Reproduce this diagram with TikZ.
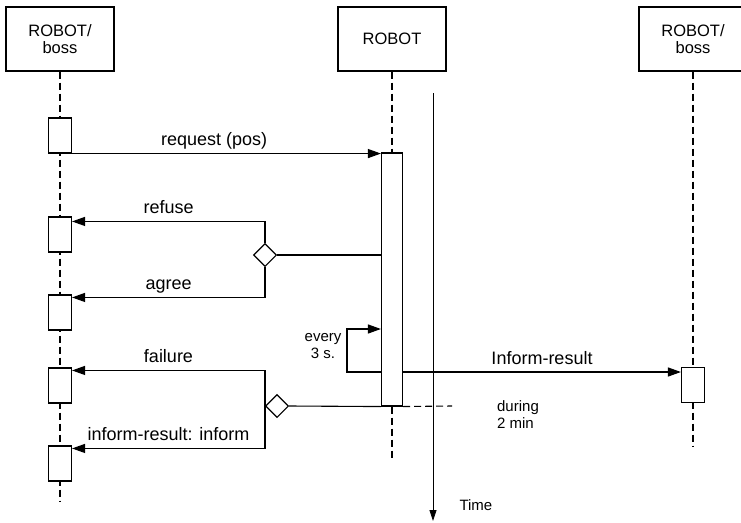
\documentclass[tikz,border=0pt]{standalone}
\usepackage{fontspec}
\setmainfont{Liberation Sans}
\usetikzlibrary{arrows.meta,shapes.geometric}

\begin{document}
\begin{tikzpicture}[x=1pt, y=-1pt, line width=1.1pt,
  head/.style={draw, minimum width=108pt, minimum height=64pt, align=center, font=\fontsize{16.5}{17.5}\selectfont},
  act/.style={draw, fill=white, minimum width=23pt, minimum height=35pt, inner sep=0pt},
  choice/.style={diamond, draw, fill=white, minimum width=23pt, minimum height=23pt, inner sep=0pt},
  life/.style={dash pattern=on 7pt off 4pt, line width=1.5pt},
  msg/.style={-{Triangle[length=13pt, width=9pt]}, line width=1.2pt},
  lbl/.style={font=\fontsize{18}{20}\selectfont, anchor=base, yshift=8pt},
  note/.style={font=\fontsize{15}{17}\selectfont, align=center, inner sep=0pt}]
\useasboundingbox (0,0) rectangle (741,522);

\node[head] (lboss) at (60,39) {ROBOT/\\boss};
\node[head] (robot) at (392,39) {ROBOT};
\node[head] (rboss) at (693,39) {ROBOT/\\boss};

\coordinate (lfoot) at (60,502);
\coordinate (mfoot) at (392,458);
\coordinate (rfoot) at (693,446);
\draw[life] (lboss.south) -- (lfoot);
\draw[life] (rboss.south) -- (rfoot);

\node[act] (la1) at (60,135.5) {};
\node[act] (la2) at (60,234.5) {};
\node[act] (la3) at (60,312.5) {};
\node[act] (la4) at (60,385.5) {};
\node[act] (la5) at (60,463.5) {};
\node[act, minimum width=21pt, minimum height=253pt] (mact) at (392,279.5) {};
\node[act] (ract) at (693,385) {};
\draw[life] (robot.south) -- (mact.north);
\draw[life] (mact.south) -- (mfoot);

\node[choice] (c1) at (265,255) {};
\node[choice] (c2) at (277,406) {};

\draw[msg] (la1.south east) -- (la1.south east -| mact.west) node[lbl, pos=0.46] {request (pos)};
\draw (c1.east) -- (c1.east -| mact.west);
\draw[msg] (c1.north) |- ([yshift=-5pt]la2.north east) node[lbl, pos=0.75] {refuse};
\draw[msg] (c1.south) |- ([yshift=-3pt]la3.north east) node[lbl, pos=0.75] {agree};

\coordinate (tick) at (347,372);
\draw[msg] (mact.west |- tick) -- (tick) |- (mact.west |- 0,329);
\node[note] (every) at (323,346) {every\\3 s.};
\draw[msg] (mact.east |- tick) -- (ract.west |- tick) node[lbl, midway] {Inform-result};

\draw (c2.east) -- (mact.south west);
\draw[msg] (c2.west) |- ([yshift=-3pt]la4.north east) node[lbl, pos=0.75] {failure};
\draw[msg] (c2.west) |- ([yshift=-3pt]la5.north east) node[lbl, pos=0.75] {inform-result: inform};

\coordinate (dtail) at (452,406);
\draw[dash pattern=on 7pt off 4pt] (mact.south east) -- (dtail);
\node[note, align=left] (during) at (518,415) {during\\2 min};

\coordinate (ttop) at (433,93);
\coordinate (tbot) at (433,521);
\draw[-{Triangle[length=11pt, width=7pt]}, line width=0.8pt] (ttop) -- (tbot);
\node[note, anchor=west] (time) at (459,505) {Time};
\end{tikzpicture}
\end{document}
